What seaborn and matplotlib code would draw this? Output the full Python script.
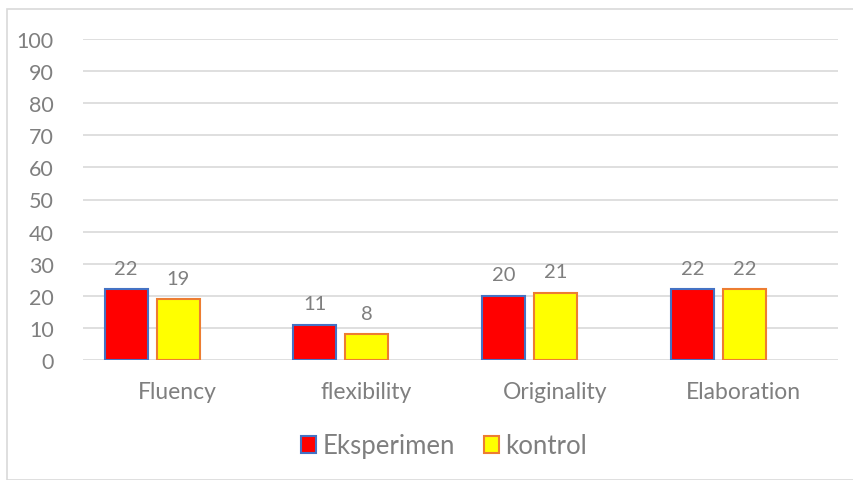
import pandas as pd
import matplotlib
matplotlib.use("Agg")
import matplotlib.pyplot as plt
import seaborn as sns
from matplotlib.patches import Rectangle

# data
categories = ["Fluency", "flexibility", "Originality", "Elaboration"]
series_names = ["Eksperimen", "kontrol"]
eksperimen = [22, 11, 20, 22]
kontrol = [19, 8, 21, 22]
y_ticks = [0, 10, 20, 30, 40, 50, 60, 70, 80, 90, 100]

df = pd.DataFrame({
    "category": categories * 2,
    "group": [series_names[0]] * 4 + [series_names[1]] * 4,
    "value": eksperimen + kontrol,
})

sns.set_theme(style="white")
plt.rcParams["font.family"] = ["Lato", "DejaVu Sans"]
txt = "#7f7f7f"

fig = plt.figure(figsize=(8.54, 4.81), dpi=100)
ax = fig.add_axes([83 / 854, 1 - 361 / 481, (838 - 83) / 854, (361 - 40) / 481])

# chart border
fig.patches.append(Rectangle((7 / 854, 0), 1.0, 1 - 10 / 481, transform=fig.transFigure,
                             fill=False, edgecolor="#d9d9d9", linewidth=1.2, zorder=0))

sns.barplot(data=df, x="category", y="value", hue="group", order=categories,
            hue_order=series_names, palette=["#ff0000", "#ffff00"], saturation=1,
            width=0.551, gap=0.173, ax=ax, legend=True)

edge_cols = ["#4472c4", "#ed7d31"]
for cont, ec in zip(ax.containers, edge_cols):
    for bar in cont:
        bar.set_edgecolor(ec)
        bar.set_linewidth(1.5)
    ax.bar_label(cont, padding=9, fontsize=14.5, color=txt)

ax.set_ylim(0, 100)
ax.set_yticks(y_ticks)
ax.set_xlim(-0.366, 3.634)
ax.set_xticks([i + 0.134 for i in range(len(categories))])
ax.set_xticklabels(categories)
ax.tick_params(axis="x", length=0, pad=15, labelsize=16.5, labelcolor=txt)
ax.tick_params(axis="y", length=0, pad=21, labelsize=15.5, labelcolor=txt)
ax.yaxis.grid(True, color="#d9d9d9", linewidth=1.2)
ax.set_axisbelow(True)
for s in ax.spines.values():
    s.set_visible(False)
ax.set_xlabel("")
ax.set_ylabel("")

leg = ax.legend(loc="center", bbox_to_anchor=(444 / 854, 1 - 447 / 481),
                bbox_transform=fig.transFigure, ncol=2, frameon=False,
                fontsize=18.5, handlelength=0.6, handleheight=0.6,
                handletextpad=0.25, columnspacing=1.1)
for t in leg.get_texts():
    t.set_color(txt)
for h, ec in zip(leg.legend_handles, edge_cols):
    h.set_edgecolor(ec)
    h.set_linewidth(1.5)

fig.savefig("out.png", dpi=100)
